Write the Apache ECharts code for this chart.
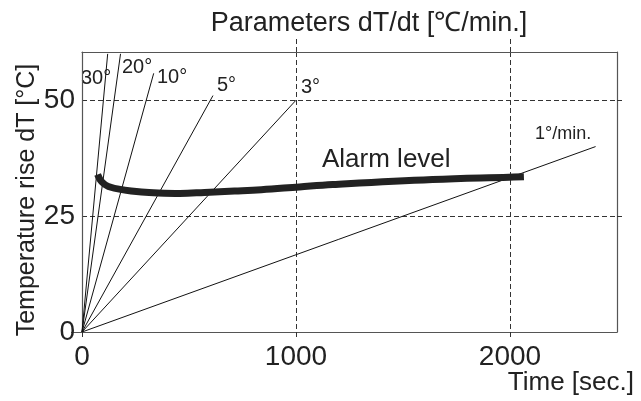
<!DOCTYPE html>
<html>
<head>
<meta charset="utf-8">
<script src="https://cdn.jsdelivr.net/npm/echarts@6/dist/echarts.min.js"></script>
<style>
html,body{margin:0;padding:0;background:#fff;}
#c{width:641px;height:401px;}
</style>
</head>
<body>
<div id="c"></div>
<script>
// ---- data ----
const xTicks = [0, 1000, 2000];
const yTicks = [0, 25, 50];
const rateNames = ['30°', '20°', '10°', '5°', '3°', '1°/min.'];
const rateEndTime = [120, 180, 335, 612, 1000, 2400];   // sec
const rateEndTemp = [60, 60, 55.8, 51, 50, 40];         // °C
const alarmTime = [73, 92, 123, 200, 278, 356, 457, 573, 713, 838, 1016, 1172, 1638, 1995, 2065];
const alarmTemp = [34.0, 32.4, 31.4, 30.6, 30.2, 30.0, 29.9, 30.1, 30.4, 30.7, 31.3, 31.8, 32.9, 33.4, 33.5];
const titleText = 'Parameters dT/dt [℃/min.]';
const yTitle = 'Temperature rise dT [°C]';
const xTitle = 'Time [sec.]';
const alarmText = 'Alarm level';

const FONT = "'Liberation Sans', Arial, Helvetica, sans-serif";
const TXT = '#222';
const AX = '#555';

const chart = echarts.init(document.getElementById('c'), null, {renderer: 'canvas'});

const series = [];
rateNames.forEach((n, i) => {
  series.push({
    type: 'line', name: n, xAxisIndex: 0, yAxisIndex: 0,
    data: [[0, 0], [rateEndTime[i], rateEndTemp[i]]],
    symbol: 'none', silent: true,
    lineStyle: {color: '#111', width: 1}
  });
});
series.push({
  type: 'line', name: alarmText, xAxisIndex: 0, yAxisIndex: 0,
  data: alarmTime.map((t, i) => [t, alarmTemp[i]]),
  symbol: 'none', smooth: 0.4, silent: true,
  lineStyle: {color: '#222', width: 7, cap: 'butt', join: 'round'}
});

const labelPos = [
  {t: rateNames[0], x: 81, y: 79, s: 20},
  {t: rateNames[1], x: 122, y: 68, s: 20},
  {t: rateNames[2], x: 157, y: 78, s: 20},
  {t: rateNames[3], x: 217, y: 86, s: 20},
  {t: rateNames[4], x: 301, y: 88, s: 20},
  {t: rateNames[5], x: 535, y: 135, s: 18}
];

const graphics = labelPos.map(p => ({
  type: 'text', left: p.x, top: p.y - p.s * 0.55,
  style: {text: p.t, font: p.s + 'px ' + FONT, fill: TXT}
}));
graphics.push({
  type: 'text', left: 322, top: 147,
  style: {text: alarmText, font: '26px ' + FONT, fill: TXT}
});
graphics.push({
  type: 'text', x: 369, y: 24,
  style: {text: titleText, font: '27px ' + FONT, fill: TXT, textAlign: 'center', textVerticalAlign: 'middle'}
});
graphics.push({
  type: 'text', x: 634, y: 383,
  style: {text: xTitle, font: '26px ' + FONT, fill: TXT, textAlign: 'right', textVerticalAlign: 'middle'}
});
graphics.push({
  type: 'text', x: 27, y: 200, rotation: Math.PI / 2,
  style: {text: yTitle, font: '25px ' + FONT, fill: TXT, textAlign: 'center', textVerticalAlign: 'middle'}
});

const dashed = {color: '#333', width: 1, type: [5, 3]};
const plain = v => String(v);

chart.setOption({
  animation: false,
  backgroundColor: '#fff',
  grid: {left: 82, right: 24, top: 52, bottom: 69, containLabel: false},
  xAxis: [
    {
      type: 'value', position: 'bottom', min: 0, max: 2500, interval: 1000,
      axisLine: {show: true, onZero: false, lineStyle: {color: AX, width: 1.2}},
      axisTick: {show: true, length: 8, inside: false, customValues: xTicks, lineStyle: dashed},
      axisLabel: {fontSize: 28, fontFamily: FONT, color: TXT, margin: 11, customValues: xTicks, formatter: plain},
      splitLine: {show: true, lineStyle: dashed}
    },
    {
      type: 'value', position: 'top', min: 0, max: 2500, interval: 1000,
      axisLine: {show: true, onZero: false, lineStyle: {color: AX, width: 1.2}},
      axisTick: {show: true, length: 14, inside: false, customValues: [1000, 2000], lineStyle: dashed},
      axisLabel: {show: false},
      splitLine: {show: false}
    }
  ],
  yAxis: [
    {
      type: 'value', position: 'left', min: 0, max: 60.4, interval: 25,
      axisLine: {show: true, onZero: false, lineStyle: {color: AX, width: 1.2}},
      axisTick: {show: true, length: 11, customValues: [0], lineStyle: {color: AX, width: 1}},
      axisLabel: {fontSize: 28, fontFamily: FONT, color: TXT, margin: 7, customValues: yTicks, formatter: plain},
      splitLine: {show: false}
    },
    {
      type: 'value', position: 'right', min: 0, max: 60.4, interval: 25,
      axisLine: {show: true, onZero: false, lineStyle: {color: AX, width: 1.2}},
      axisTick: {show: true, length: 8, customValues: [25, 50], lineStyle: dashed},
      axisLabel: {show: false},
      splitLine: {show: true, lineStyle: dashed}
    }
  ],
  series: series,
  graphic: graphics
});
</script>
</body>
</html>
